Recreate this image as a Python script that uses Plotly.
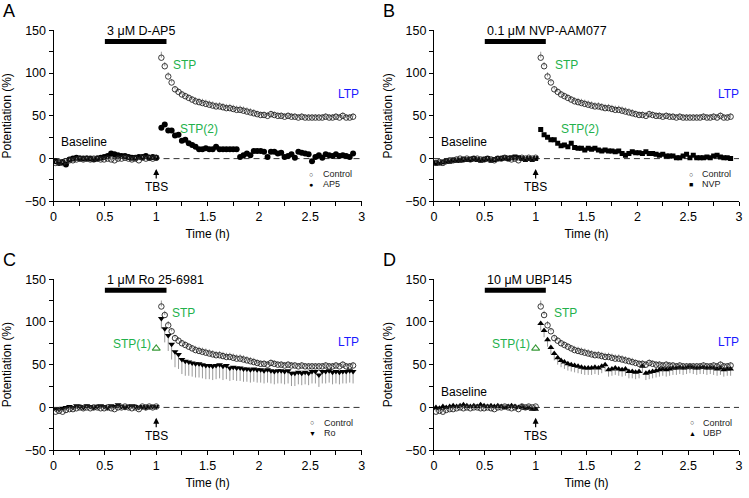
import numpy as np
import plotly.graph_objects as go

# sampling grid (2-min bins), baseline then post-TBS
t_base = list(np.round(np.linspace(0.02, 1.0, 30), 3))
t_post = list(np.round(np.linspace(1.05, 2.917, 57), 3))
time = t_base + t_post

ctrl_base = [-5, -4, -5, -3, -2, -2, -1, 0, -1, 0, -1, 0, 0, -1, -1,
             0, -1, -2, 0, 0, 1, 0, -1, 0, -2, 1, 0, 1, 0, 1]
ctrl_post = [118, 108, 96, 89, 81, 78, 75, 73, 71, 69,
             67, 66, 65, 64, 63, 62, 61, 61, 60, 59,
             59, 58, 57, 57, 56, 55, 54, 53, 52, 51,
             51, 50, 52, 51, 50, 50, 49, 50, 49, 49,
             48, 49, 48, 48, 48, 48, 48, 48, 49, 48,
             48, 49, 48, 50, 48, 48, 49]
ctrl_err_base = [2] * 30
ctrl_err_post = [7, 5, 5, 4, 4, 4, 4, 4, 4, 4,
                 5, 5, 5, 5, 5, 5, 5, 5, 5, 5,
                 5, 5, 5, 5, 5, 5, 5, 5, 4, 4,
                 4, 4, 4, 4, 4, 4, 4, 4, 4, 4,
                 4, 4, 4, 4, 4, 4, 4, 4, 4, 4,
                 4, 4, 4, 4, 4, 4, 4]

ap5_base = [-3, -5, -4, -7, -1, 0, 1, 0, 0, 0, 0, -1, 0, 1, 2,
            3, 6, 5, 4, 3, 3, 2, 1, 1, 2, 2, 3, 1, 2, 1]
ap5_post = [36, 40, 33, 33, 27, 28, 21, 22, 18, 16,
            14, 11, 11, 12, 11, 11, 14, 11, 11, 11,
            11, 11, 11, 2, 4, 6, 4, 9, 9, 9,
            8, 2, 8, 8, 6, 7, 2, 3, 5, 1,
            8, 7, 6, 5, -3, 2, 4, 1, 5, 4,
            3, 5, 3, 4, 3, 2, 6]

nvp_base = [-5, -5, -4, -3, -3, -2, -2, -2, -1, -1, -1, 0, -1, -2, -1,
            0, -2, -1, 0, 0, 1, 0, 1, 2, 1, 0, -1, 0, -1, 0]
nvp_post = [34, 28, 25, 22, 22, 18, 15, 16, 14, 18,
            13, 12, 12, 10, 12, 11, 12, 10, 9, 10,
            9, 9, 8, 9, 6, 4, 6, 8, 7, 7,
            6, 8, 6, 6, 5, 4, 5, 3, 3, 3,
            1, 1, 3, 5, 1, 4, 1, 1, 1, 2,
            1, 3, 4, 2, 1, 1, 0]

ro_base = [-2, -2, -1, 0, 1, 0, 2, 1, 0, 2, 1, 0, 1, 2, 1,
           0, 2, 1, 3, 1, 0, 1, 2, 1, 0, 1, 0, 1, 1, 1]
ro_post = [104, 92, 84, 74, 65, 62, 56, 54, 53, 52,
           51, 51, 50, 49, 49, 48, 49, 50, 48, 49,
           46, 47, 46, 46, 45, 45, 44, 45, 44, 44,
           43, 44, 43, 42, 43, 43, 42, 43, 40, 40,
           41, 40, 41, 40, 42, 42, 38, 42, 42, 43,
           41, 42, 41, 42, 42, 43, 42]
ro_err_base = [2] * 30
ro_err_post = [12, 16, 18, 18, 18, 17, 17, 17, 16, 16,
               16, 16, 16, 16, 16, 16, 16, 16, 16, 16,
               15, 15, 15, 15, 15, 15, 15, 15, 15, 15,
               15, 15, 15, 15, 15, 15, 15, 15, 15, 15,
               14, 14, 14, 14, 14, 14, 14, 14, 14, 14,
               14, 14, 14, 14, 14, 14, 14]

ubp_base = [0, -1, 1, 0, 1, 2, 1, 2, 3, 2, 1, 2, 1, 3, 2,
            1, 2, 1, 2, 1, 0, 1, 2, 1, 0, 1, -1, 0, -2, -2]
ubp_post = [98, 90, 79, 70, 63, 58, 55, 53, 51, 50,
            49, 48, 47, 46, 46, 46, 47, 46, 48, 50,
            44, 45, 46, 45, 44, 45, 42, 42, 41, 42,
            48, 40, 41, 42, 43, 44, 45, 44, 45, 46,
            46, 47, 46, 47, 48, 47, 46, 47, 47, 46,
            47, 46, 45, 46, 44, 45, 45]
ubp_err_base = [2] * 30
ubp_err_post = [8] * 57

stp1_t = 1.0
stp1_val = 69
drug_on, drug_off = 0.5, 1.1

panels = [
    dict(key="A", drug="3 μM D-AP5", name="AP5", y=ap5_base + ap5_post,
         err=None, symbol="circle", size=6, glyph="●",
         x=[51, 362], y_px=[24, 200], stp2=(1.42, 35), stp1=False,
         base=(0.3, 20), ltp=2.875, stp=1.28, leg=2.51),
    dict(key="B", drug="0.1 μM NVP-AAM077", name="NVP", y=nvp_base + nvp_post,
         err=None, symbol="square", size=5, glyph="■",
         x=[435, 743], y_px=[24, 200], stp2=(1.44, 35), stp1=False,
         base=(0.3, 20), ltp=2.9, stp=1.3, leg=2.53),
    dict(key="C", drug="1 μM Ro 25-6981", name="Ro", y=ro_base + ro_post,
         err=ro_err_base + ro_err_post, symbol="triangle-down", size=6, glyph="▼",
         x=[51, 362], y_px=[280, 456], stp2=None, stp1=True,
         base=None, ltp=2.875, stp=1.27, leg=2.52),
    dict(key="D", drug="10 μM UBP145", name="UBP", y=ubp_base + ubp_post,
         err=ubp_err_base + ubp_err_post, symbol="triangle-up", size=6, glyph="▲",
         x=[435, 743], y_px=[280, 456], stp2=None, stp1=True,
         base=(0.3, 18), ltp=2.9, stp=1.29, leg=2.54),
]

W, H = 749, 498
FONT = "Arial, Liberation Sans, sans-serif"
GREEN = "#22b14c"

fig = go.Figure()
annos = []
shapes = []

for i, p in enumerate(panels):
    n = "" if i == 0 else str(i + 1)
    xa, ya = "x" + n, "y" + n

    fig.add_trace(go.Scatter(
        x=time, y=p["y"], mode="markers", xaxis=xa, yaxis=ya, showlegend=False,
        marker=dict(symbol=p["symbol"], size=p["size"], color="black"),
        error_y=dict(type="data", symmetric=False, array=[0] * len(time),
                     arrayminus=p["err"], color="#9a9a9a", thickness=1, width=0,
                     visible=p["err"] is not None),
    ))
    fig.add_trace(go.Scatter(
        x=time, y=ctrl_base + ctrl_post, mode="markers", xaxis=xa, yaxis=ya,
        showlegend=False,
        marker=dict(symbol="circle-open", size=5.5, color="#222",
                    line=dict(width=0.9)),
        error_y=dict(type="data", symmetric=False,
                     array=ctrl_err_base + ctrl_err_post, arrayminus=[0] * len(time),
                     color="#9a9a9a", thickness=1, width=0),
    ))
    if p["stp1"]:
        fig.add_trace(go.Scatter(
            x=[stp1_t], y=[stp1_val], mode="markers", xaxis=xa, yaxis=ya,
            showlegend=False,
            marker=dict(symbol="triangle-up-open", size=7, color="#3a9a3a",
                        line=dict(width=1.1)),
        ))

    dom_x = [p["x"][0] / W, p["x"][1] / W]
    dom_y = [1 - p["y_px"][1] / H, 1 - p["y_px"][0] / H]
    fig.layout["xaxis" + n] = dict(
        domain=dom_x, anchor=ya, range=[0, 3], tickvals=[0, 0.5, 1, 1.5, 2, 2.5, 3],
        ticks="outside", ticklen=4, tickcolor="black", showline=True,
        linecolor="black", linewidth=1, showgrid=False, zeroline=False,
        minor=dict(dtick=0.25, ticks="outside", ticklen=4, tickcolor="black"),
        title=dict(text="Time (h)", standoff=6, font=dict(size=12)),
        tickfont=dict(size=12.5),
    )
    fig.layout["yaxis" + n] = dict(
        domain=dom_y, anchor=xa, range=[-50, 150], dtick=50,
        ticks="outside", ticklen=4, tickcolor="black", showline=True,
        linecolor="black", linewidth=1, showgrid=False, zeroline=False,
        minor=dict(dtick=25, ticks="outside", ticklen=4, tickcolor="black"),
        title=dict(text="Potentiation (%)", standoff=10, font=dict(size=12)),
        tickfont=dict(size=12.5),
    )

    # dashed zero line
    shapes.append(dict(type="line", xref=xa, yref=ya, x0=0, x1=3, y0=0, y1=0,
                       line=dict(color="#333", width=1, dash="6px,4px"), layer="below"))
    # drug application bar
    shapes.append(dict(type="line", xref=xa, yref=ya, x0=drug_on, x1=drug_off,
                       y0=137, y1=137, line=dict(color="black", width=5)))

    def txt(x, y, s, color="black", size=12, xanchor="center"):
        annos.append(dict(xref=xa, yref=ya, x=x, y=y, text=s, showarrow=False,
                          xanchor=xanchor, yanchor="middle",
                          font=dict(size=size, color=color)))

    txt(drug_on, 149, p["drug"], size=12.5, xanchor="left")
    txt(p["stp"], 110, "STP", GREEN)
    txt(p["ltp"], 76, "LTP", "#1a1aff")
    if p["stp2"]:
        txt(p["stp2"][0], p["stp2"][1], "STP(2)", GREEN)
    if p["stp1"]:
        txt(0.76, 74, "STP(1)", GREEN)
    if p["base"]:
        txt(p["base"][0], p["base"][1], "Baseline")
    txt(1.0, -33, "TBS")
    annos.append(dict(xref=xa, yref=ya, x=1.0, y=-12, ax=1.0, ay=-25,
                      axref=xa, ayref=ya, text="", showarrow=True,
                      arrowhead=2, arrowsize=1, arrowwidth=1.2, arrowcolor="black"))
    # legend
    txt(p["leg"], -18, "○", "#222", size=7)
    txt(p["leg"], -30, p["glyph"], "black", size=7)
    txt(p["leg"] + 0.09, -18, "Control", "#222", size=9, xanchor="left")
    txt(p["leg"] + 0.09, -30, p["name"], "#222", size=9, xanchor="left")

    # panel letter
    annos.append(dict(xref="paper", yref="paper", x=(p["x"][0] - 51) / W,
                      y=1 - (p["y_px"][0] - 24) / H, text=p["key"], showarrow=False,
                      xanchor="left", yanchor="top", xshift=-2, yshift=8,
                      font=dict(size=18, color="black")))

fig.update_layout(
    width=W, height=H, margin=dict(l=0, r=0, t=0, b=0),
    plot_bgcolor="white", paper_bgcolor="white",
    font=dict(family=FONT, color="black"),
    annotations=annos, shapes=shapes, showlegend=False,
)

fig.write_html("out.html", config={"displayModeBar": False},
               post_script="document.body.style.margin='0';")
